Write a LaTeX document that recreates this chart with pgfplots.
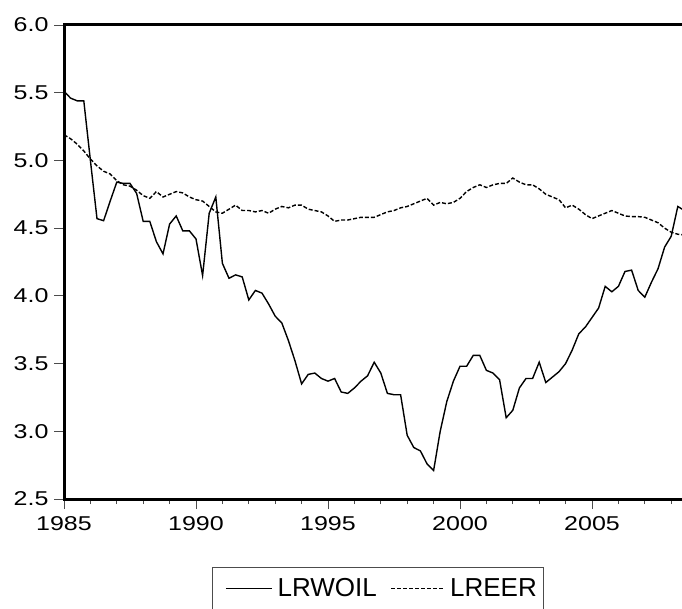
\documentclass[border=0pt]{standalone}
\usepackage{fontspec}
\setmainfont{Liberation Sans}
\newfontfamily\tickfont[FakeStretch=1.25]{Liberation Sans}
\usepackage{pgfplots}
\pgfplotsset{compat=1.18}
\usepackage{pgfplotstable}
\pgfplotsset{
  solidleg/.style={legend image code/.code={\path (0pt,0pt); \draw[##1] (8pt,0pt) -- (54pt,0pt);}},
  dashleg/.style={legend image code/.code={\draw[##1] (0pt,0pt) -- (53pt,0pt);}},
}
\pgfplotstableread{
i lrwoil lreer
0 5.51 5.19
1 5.46 5.16
2 5.44 5.12
3 5.44 5.07
4 5.00 5.01
5 4.57 4.96
6 4.555 4.92
7 4.70 4.90
8 4.84 4.85
9 4.83 4.82
10 4.83 4.81
11 4.757 4.78
12 4.55 4.74
13 4.55 4.72
14 4.40 4.77
15 4.31 4.73
16 4.53 4.75
17 4.59 4.77
18 4.48 4.76
19 4.48 4.73
20 4.42 4.71
21 4.15 4.70
22 4.61 4.66
23 4.73 4.62
24 4.24 4.61
25 4.13 4.64
26 4.155 4.67
27 4.14 4.63
28 3.97 4.63
29 4.04 4.62
30 4.02 4.63
31 3.94 4.61
32 3.85 4.64
33 3.80 4.66
34 3.67 4.65
35 3.52 4.67
36 3.35 4.67
37 3.42 4.64
38 3.43 4.63
39 3.39 4.62
40 3.37 4.59
41 3.39 4.55
42 3.29 4.56
43 3.28 4.56
44 3.32 4.57
45 3.37 4.58
46 3.41 4.58
47 3.51 4.58
48 3.43 4.60
49 3.28 4.62
50 3.27 4.63
51 3.27 4.65
52 2.97 4.66
53 2.88 4.68
54 2.855 4.70
55 2.76 4.72
56 2.71 4.67
57 3.00 4.69
58 3.22 4.68
59 3.37 4.69
60 3.48 4.72
61 3.48 4.77
62 3.56 4.80
63 3.56 4.82
64 3.45 4.80
65 3.43 4.82
66 3.38 4.83
67 3.10 4.83
68 3.155 4.87
69 3.32 4.84
70 3.39 4.82
71 3.39 4.82
72 3.51 4.79
73 3.36 4.75
74 3.40 4.73
75 3.44 4.71
76 3.50 4.65
77 3.60 4.67
78 3.72 4.64
79 3.77 4.60
80 3.84 4.57
81 3.91 4.59
82 4.07 4.61
83 4.03 4.63
84 4.07 4.61
85 4.18 4.59
86 4.19 4.585
87 4.04 4.585
88 3.99 4.58
89 4.10 4.56
90 4.20 4.54
91 4.36 4.50
92 4.44 4.47
93 4.66 4.455
94 4.63 4.45
}\data
\begin{document}
\begin{tikzpicture}
\begin{axis}[
  name=ax,
  at={(64pt,109pt)}, anchor=south west,
  scale only axis, width=627pt, height=474pt,
  xmin=1985, xmax=2008.75, ymin=2.5, ymax=6.0,
  axis lines=left,
  axis line style={-, line width=3pt, line cap=rect},
  xtick={1985,1990,1995,2000,2005},
  minor xtick={1986,1987,1988,1989,1991,1992,1993,1994,1996,1997,1998,1999,2001,2002,2003,2004,2006,2007,2008},
  ytick={2.5,3.0,3.5,4.0,4.5,5.0,5.5,6.0},
  tick align=outside, tick pos=left,
  major tick length=10pt, minor tick length=5pt,
  tick style={line width=0.8pt, black!70},
  /pgf/number format/assume math mode=true,
  tick label style={font=\fontsize{20}{23}\tickfont},
  yticklabel style={/pgf/number format/fixed, /pgf/number format/fixed zerofill, /pgf/number format/precision=1, xshift=-2pt},
  xticklabel style={/pgf/number format/set thousands separator={}, yshift=-4pt},
  legend style={at={(0.5008,-0.1435)}, anchor=north, draw=black!70, line width=0.8pt,
    font=\fontsize{26}{30}\selectfont, legend columns=2,
    inner xsep=5pt, inner ysep=9pt,
    /tikz/every odd column/.append style={column sep=3pt},
    /tikz/every even column/.append style={column sep=12pt}},
]
\addplot[black, line width=1.4pt, solidleg] table[x expr=1985+\thisrow{i}/4, y=lrwoil] {\data};
\addplot[black, line width=1.4pt, dash pattern=on 4pt off 2pt, dashleg] table[x expr=1985+\thisrow{i}/4, y=lreer] {\data};
\legend{LRWOIL, LREER}
\end{axis}
\draw[line width=3pt, line cap=rect] (ax.north west) -- (ax.north east);
\pgfresetboundingbox
\path (0,0) rectangle (682pt,608pt);
\end{tikzpicture}
\end{document}
